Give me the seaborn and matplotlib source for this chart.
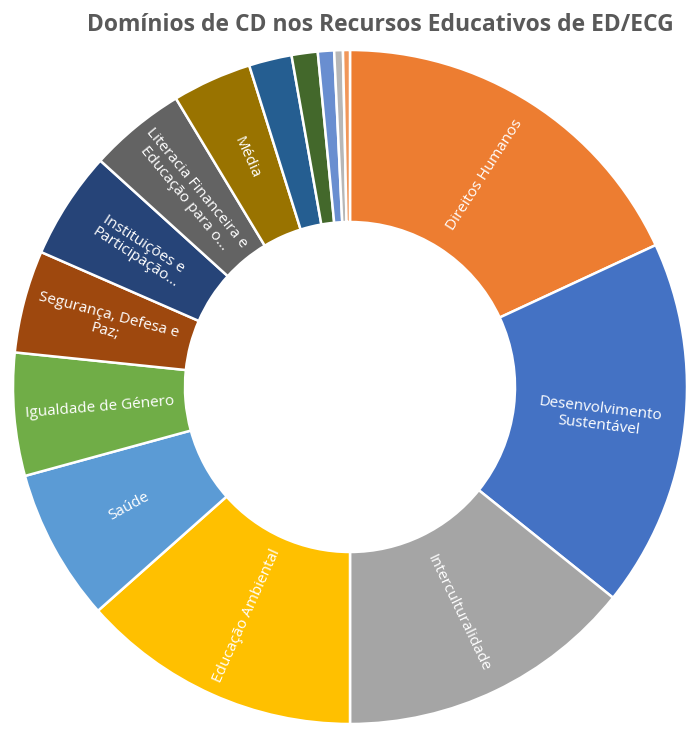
import numpy as np
import matplotlib
matplotlib.use("Agg")
import matplotlib.pyplot as plt
import seaborn as sns

# ---- data ----
categories = [
    "Direitos Humanos", "Desenvolvimento Sustentável", "Interculturalidade",
    "Educação Ambiental", "Saúde", "Igualdade de Género",
    "Segurança, Defesa e Paz;", "Instituições e Participação...",
    "Literacia Financeira e Educação para o...", "Média",
    "Outro 1", "Outro 2", "Outro 3", "Outro 4", "Outro 5",
]
values = [65.1, 63.6, 51.3, 48.4, 26.3, 21.2, 17.7, 18.6, 16.7, 13.7,
          7.4, 4.5, 2.8, 1.5, 1.2]
labels = [
    "Direitos Humanos", "Desenvolvimento\nSustentável", "Interculturalidade",
    "Educação Ambiental", "Saúde", "Igualdade de Género",
    "Segurança, Defesa e\nPaz;", "Instituições e\nParticipação...",
    "Literacia Financeira e\nEducação para o...", "Média",
    "", "", "", "", "",
]
colors = ["#ED7D31", "#4472C4", "#A5A5A5", "#FFC000", "#5B9BD5", "#70AD47",
          "#9E480E", "#264478", "#636363", "#997300", "#255E91", "#43682B",
          "#698ED0", "#B7B7B7", "#F1975A"]
title = "Domínios de CD nos Recursos Educativos de ED/ECG"

sns.set_theme(style="white")
plt.rcParams["font.family"] = ["Open Sans", "DejaVu Sans"]

W, H = 688, 729
fig = plt.figure(figsize=(W / 100, H / 100), dpi=100)
R = 337
cx, cy = 350, 387
ax = fig.add_axes([(cx - R) / W, (H - cy - R) / H, 2 * R / W, 2 * R / H])

palette = sns.color_palette(colors)
wedges, _ = ax.pie(values, colors=palette, startangle=90, counterclock=False,
                   radius=1.0,
                   wedgeprops=dict(width=(337 - 165) / 337, edgecolor="white",
                                   linewidth=1.8))
ax.set_xlim(-1, 1)
ax.set_ylim(-1, 1)
ax.set_aspect("equal")
ax.axis("off")

rlab = 0.745
for w, lab in zip(wedges, labels):
    if not lab:
        continue
    mid = np.deg2rad((w.theta1 + w.theta2) / 2)
    x, y = rlab * np.cos(mid), rlab * np.sin(mid)
    rot = np.rad2deg(mid)
    rot = (rot + 180) % 360 - 180
    if rot > 90:
        rot -= 180
    elif rot < -90:
        rot += 180
    ax.text(x, y, lab, ha="center", va="center", rotation=rot,
            rotation_mode="anchor", color="white", fontsize=11,
            linespacing=1.1)

fig.text(380 / W, 1 - 25 / H, title, ha="center", va="center",
         fontsize=16.5, fontweight="bold", color="#595959")

fig.savefig("out.png", dpi=100)
